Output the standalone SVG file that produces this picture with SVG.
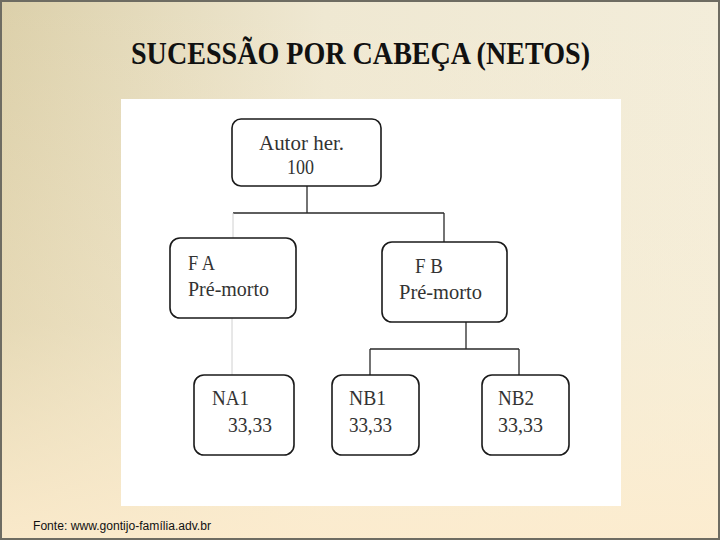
<svg xmlns="http://www.w3.org/2000/svg" width="720" height="540" viewBox="0 0 720 540">
  <defs>
    <linearGradient id="bgH" x1="0" y1="0" x2="1" y2="0">
      <stop offset="0" stop-color="#dcd0aa"/>
      <stop offset="0.45" stop-color="#efe8d2"/>
      <stop offset="1" stop-color="#f3edda"/>
    </linearGradient>
    <linearGradient id="bgV" x1="0" y1="0" x2="0" y2="1">
      <stop offset="0" stop-color="#fdefd2" stop-opacity="0"/>
      <stop offset="0.6" stop-color="#fdefd2" stop-opacity="0.3"/>
      <stop offset="1" stop-color="#fdecce" stop-opacity="0.9"/>
    </linearGradient>
    <style>
      .box { fill: #ffffff; stroke: #1a1a1a; stroke-width: 1.6; }
      .lbl { font-family: "Liberation Serif", "Times New Roman", serif; font-size: 22px; fill: #333333; }
      .con { fill: none; stroke: #2a2a2a; stroke-width: 1.3; }
      .faint { fill: none; stroke: #d0d0d0; stroke-width: 1; }
    </style>
  </defs>

  <rect x="0" y="0" width="720" height="540" fill="url(#bgH)"/>
  <rect x="0" y="0" width="720" height="540" fill="url(#bgV)"/>
  <rect x="1" y="1" width="718" height="538" fill="none" stroke="#6e6c62" stroke-width="2"/>

  <text x="131" y="64" font-family="'Liberation Serif', 'Times New Roman', serif" font-weight="bold" font-size="32" fill="#111" textLength="459" lengthAdjust="spacingAndGlyphs">SUCESSÃO POR CABEÇA (NETOS)</text>

  <rect id="panel" x="121" y="99" width="500" height="407" fill="#ffffff"/>

  <g id="connectors">
    <path class="con" d="M307 186 V213 M233 213 H444 M444 213 V242"/>
    <path class="faint" d="M233 213 V238 M232 318 V375"/>
    <path class="con" d="M466 322 V349 M370 349 H519 M370 349 V375 M519 349 V375"/>
  </g>

  <g id="autor">
    <rect class="box" x="232" y="119" width="149" height="67" rx="9"/>
    <text class="lbl" x="259" y="150" textLength="85" lengthAdjust="spacingAndGlyphs">Autor her.</text>
    <text class="lbl" x="287" y="174" textLength="27" lengthAdjust="spacingAndGlyphs">100</text>
  </g>

  <g id="fa">
    <rect class="box" x="170" y="238" width="126" height="80" rx="10"/>
    <text class="lbl" x="188" y="270" textLength="27" lengthAdjust="spacingAndGlyphs">F A</text>
    <text class="lbl" x="188" y="296" textLength="81" lengthAdjust="spacingAndGlyphs">Pré-morto</text>
  </g>

  <g id="fb">
    <rect class="box" x="382" y="242" width="125" height="80" rx="10"/>
    <text class="lbl" x="415" y="273" textLength="28" lengthAdjust="spacingAndGlyphs">F B</text>
    <text class="lbl" x="399" y="299" textLength="83" lengthAdjust="spacingAndGlyphs">Pré-morto</text>
  </g>

  <g id="na1">
    <rect class="box" x="194" y="375" width="100" height="80" rx="10"/>
    <text class="lbl" x="212" y="405" textLength="37" lengthAdjust="spacingAndGlyphs">NA1</text>
    <text class="lbl" x="228" y="432" textLength="44" lengthAdjust="spacingAndGlyphs">33,33</text>
  </g>

  <g id="nb1">
    <rect class="box" x="332" y="375" width="87" height="80" rx="10"/>
    <text class="lbl" x="349" y="405" textLength="37" lengthAdjust="spacingAndGlyphs">NB1</text>
    <text class="lbl" x="349" y="432" textLength="43" lengthAdjust="spacingAndGlyphs">33,33</text>
  </g>

  <g id="nb2">
    <rect class="box" x="482" y="375" width="87" height="80" rx="10"/>
    <text class="lbl" x="498" y="405" textLength="36" lengthAdjust="spacingAndGlyphs">NB2</text>
    <text class="lbl" x="498" y="432" textLength="45" lengthAdjust="spacingAndGlyphs">33,33</text>
  </g>

  <text x="33" y="530" font-family="'Liberation Sans', Arial, sans-serif" font-size="12" fill="#111" textLength="178" lengthAdjust="spacingAndGlyphs">Fonte: www.gontijo-família.adv.br</text>
</svg>
